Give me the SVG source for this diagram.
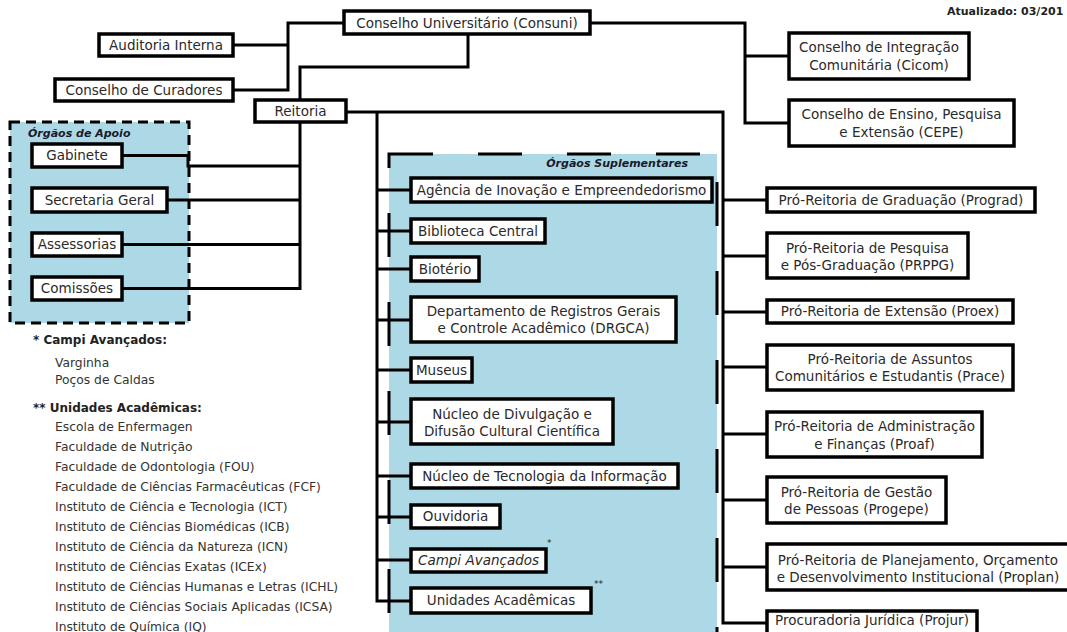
<svg xmlns="http://www.w3.org/2000/svg" width="1067" height="632" viewBox="0 0 1067 632">
<style>
  .box{fill:#fff;stroke:#000;stroke-width:3.5}
  .t{font-family:"DejaVu Sans","Liberation Sans",sans-serif;font-size:13.5px;fill:#2a2a2a;text-anchor:middle}
  .it{font-style:italic}
  .lg{font-family:"DejaVu Sans","Liberation Sans",sans-serif;font-size:12.3px;fill:#333}
  .lgb{font-family:"DejaVu Sans","Liberation Sans",sans-serif;font-size:12px;font-weight:bold;fill:#222}
  .grp{font-family:"DejaVu Sans","Liberation Sans",sans-serif;font-size:11px;font-weight:bold;font-style:italic;fill:#1a1a2a}
  .ast{font-family:"DejaVu Sans","Liberation Sans",sans-serif;font-size:9px;fill:#222}
  .conn path{fill:none;stroke:#000;stroke-width:3}
</style>
<rect width="1067" height="632" fill="#fff"/>
<text x="947" y="15" font-family="DejaVu Sans, sans-serif" font-size="11" font-weight="bold" fill="#222">Atualizado: 03/201</text>

<g id="orgaos-apoio">
  <rect x="10" y="122" width="179" height="201" fill="#add8e6" stroke="#000" stroke-width="3" stroke-dasharray="10 6"/>
  <text class="grp" x="28" y="137">Órgãos de Apoio</text>
</g>
<g id="orgaos-suplementares">
  <rect x="389" y="154" width="328" height="480" fill="#add8e6" stroke="#000" stroke-width="3" stroke-dasharray="44 45"/>
  <text class="grp" x="688" y="167" text-anchor="end">Órgãos Suplementares</text>
</g>

<g id="connectors" class="conn">
  <path d="M344,23 H288 V90 H233"/>
  <path d="M288,45 H233"/>
  <path d="M590,23 H745 V123 H789"/>
  <path d="M745,56 H789"/>
  <path d="M468,34 V67 H300 V100"/>
  <path d="M300,122 V288.5 H122"/>
  <path d="M122,155.5 H188 V166 H300"/>
  <path d="M167,200 H300"/>
  <path d="M122,244.5 H300"/>
  <path d="M346,112 H723 V623 H767"/>
  <path d="M377,112 V601 H411"/>
  <path d="M377,190 H411"/>
  <path d="M377,231 H411"/>
  <path d="M377,269 H411"/>
  <path d="M377,320 H411"/>
  <path d="M377,370 H411"/>
  <path d="M377,422 H411"/>
  <path d="M377,476 H411"/>
  <path d="M377,517 H411"/>
  <path d="M377,560 H411"/>
  <path d="M723,200 H767"/>
  <path d="M723,256 H767"/>
  <path d="M723,312 H767"/>
  <path d="M723,367 H767"/>
  <path d="M723,434 H767"/>
  <path d="M723,500 H767"/>
  <path d="M723,567 H767"/>
</g>

<g id="consuni"><rect class="box" x="344" y="11" width="246" height="23"/><text class="t" x="467" y="27.5">Conselho Universitário (Consuni)</text></g>
<g id="auditoria"><rect class="box" x="99" y="34" width="134" height="22"/><text class="t" x="166" y="50">Auditoria Interna</text></g>
<g id="curadores"><rect class="box" x="55" y="79" width="178" height="22"/><text class="t" x="144" y="95">Conselho de Curadores</text></g>
<g id="reitoria"><rect class="box" x="255" y="100" width="91" height="22"/><text class="t" x="300.5" y="116">Reitoria</text></g>
<g id="cicom"><rect class="box" x="789" y="33" width="180" height="46"/><text class="t" x="879" y="51.5">Conselho de Integração</text><text class="t" x="879" y="70">Comunitária (Cicom)</text></g>
<g id="cepe"><rect class="box" x="789" y="100" width="225" height="46"/><text class="t" x="901.5" y="118.5">Conselho de Ensino, Pesquisa</text><text class="t" x="901.5" y="137">e Extensão (CEPE)</text></g>

<g id="gabinete"><rect class="box" x="32" y="144" width="90" height="23"/><text class="t" x="77" y="160">Gabinete</text></g>
<g id="secretaria"><rect class="box" x="32" y="188" width="135" height="24"/><text class="t" x="99.5" y="204.5">Secretaria Geral</text></g>
<g id="assessorias"><rect class="box" x="32" y="233" width="90" height="23"/><text class="t" x="77" y="249">Assessorias</text></g>
<g id="comissoes"><rect class="box" x="32" y="277" width="90" height="23"/><text class="t" x="77" y="293">Comissões</text></g>

<g id="agencia"><rect class="box" x="411" y="178" width="301" height="24"/><text class="t" x="561.5" y="195">Agência de Inovação e Empreendedorismo</text></g>
<g id="biblioteca"><rect class="box" x="411" y="219" width="134" height="24"/><text class="t" x="478" y="236">Biblioteca Central</text></g>
<g id="bioterio"><rect class="box" x="411" y="257" width="68" height="24"/><text class="t" x="445" y="274">Biotério</text></g>
<g id="drgca"><rect class="box" x="411" y="297" width="265" height="45"/><text class="t" x="543.5" y="316">Departamento de Registros Gerais</text><text class="t" x="543.5" y="333">e Controle Acadêmico (DRGCA)</text></g>
<g id="museus"><rect class="box" x="411" y="358" width="61" height="24"/><text class="t" x="441.5" y="375">Museus</text></g>
<g id="nucleo-divulgacao"><rect class="box" x="411" y="399" width="202" height="45"/><text class="t" x="512" y="418.5">Núcleo de Divulgação e</text><text class="t" x="512" y="435.5">Difusão Cultural Científica</text></g>
<g id="nti"><rect class="box" x="411" y="464" width="267" height="24"/><text class="t" x="544.5" y="481">Núcleo de Tecnologia da Informação</text></g>
<g id="ouvidoria"><rect class="box" x="411" y="505" width="89" height="23"/><text class="t" x="455.5" y="521">Ouvidoria</text></g>
<g id="campi"><rect class="box" x="411" y="549" width="135" height="23"/><text class="t it" x="478.5" y="565">Campi Avançados</text><text class="ast" x="547" y="546">*</text></g>
<g id="unidades"><rect class="box" x="411" y="588" width="180" height="25"/><text class="t" x="501" y="605">Unidades Acadêmicas</text><text class="ast" x="594" y="587">**</text></g>

<g id="prograd"><rect class="box" x="767" y="188" width="268" height="24"/><text class="t" x="901" y="205">Pró-Reitoria de Graduação (Prograd)</text></g>
<g id="prppg"><rect class="box" x="767" y="233" width="201" height="45"/><text class="t" x="867.5" y="252.5">Pró-Reitoria de Pesquisa</text><text class="t" x="867.5" y="269.5">e Pós-Graduação (PRPPG)</text></g>
<g id="proex"><rect class="box" x="767" y="300" width="246" height="23"/><text class="t" x="890" y="316">Pró-Reitoria de Extensão (Proex)</text></g>
<g id="prace"><rect class="box" x="767" y="345" width="246" height="45"/><text class="t" x="890" y="363.5">Pró-Reitoria de Assuntos</text><text class="t" x="890" y="380.5">Comunitários e Estudantis (Prace)</text></g>
<g id="proaf"><rect class="box" x="767" y="412" width="215" height="45"/><text class="t" x="874.5" y="431">Pró-Reitoria de Administração</text><text class="t" x="874.5" y="448.5">e Finanças (Proaf)</text></g>
<g id="progepe"><rect class="box" x="767" y="477" width="179" height="46"/><text class="t" x="856.5" y="497">Pró-Reitoria de Gestão</text><text class="t" x="856.5" y="513.5">de Pessoas (Progepe)</text></g>
<g id="proplan"><rect class="box" x="767" y="544" width="304" height="46"/><text class="t" x="918" y="565">Pró-Reitoria de Planejamento, Orçamento</text><text class="t" x="918" y="582">e Desenvolvimento Institucional (Proplan)</text></g>
<g id="projur"><rect class="box" x="767" y="611" width="210" height="30"/><text class="t" x="872" y="625">Procuradoria Jurídica (Projur)</text></g>

<g id="legenda">
  <text class="lgb" x="33" y="344">* Campi Avançados:</text>
  <text class="lg" x="55" y="367">Varginha</text>
  <text class="lg" x="55" y="384">Poços de Caldas</text>
  <text class="lgb" x="33" y="412">** Unidades Acadêmicas:</text>
  <text class="lg" x="55" y="431">Escola de Enfermagen</text>
  <text class="lg" x="55" y="451">Faculdade de Nutrição</text>
  <text class="lg" x="55" y="471">Faculdade de Odontologia (FOU)</text>
  <text class="lg" x="55" y="491">Faculdade de Ciências Farmacêuticas (FCF)</text>
  <text class="lg" x="55" y="511">Instituto de Ciência e Tecnologia (ICT)</text>
  <text class="lg" x="55" y="531">Instituto de Ciências Biomédicas (ICB)</text>
  <text class="lg" x="55" y="551">Instituto de Ciência da Natureza (ICN)</text>
  <text class="lg" x="55" y="571">Instituto de Ciências Exatas (ICEx)</text>
  <text class="lg" x="55" y="591">Instituto de Ciências Humanas e Letras (ICHL)</text>
  <text class="lg" x="55" y="611">Instituto de Ciências Sociais Aplicadas (ICSA)</text>
  <text class="lg" x="55" y="631">Instituto de Química (IQ)</text>
</g>
</svg>
